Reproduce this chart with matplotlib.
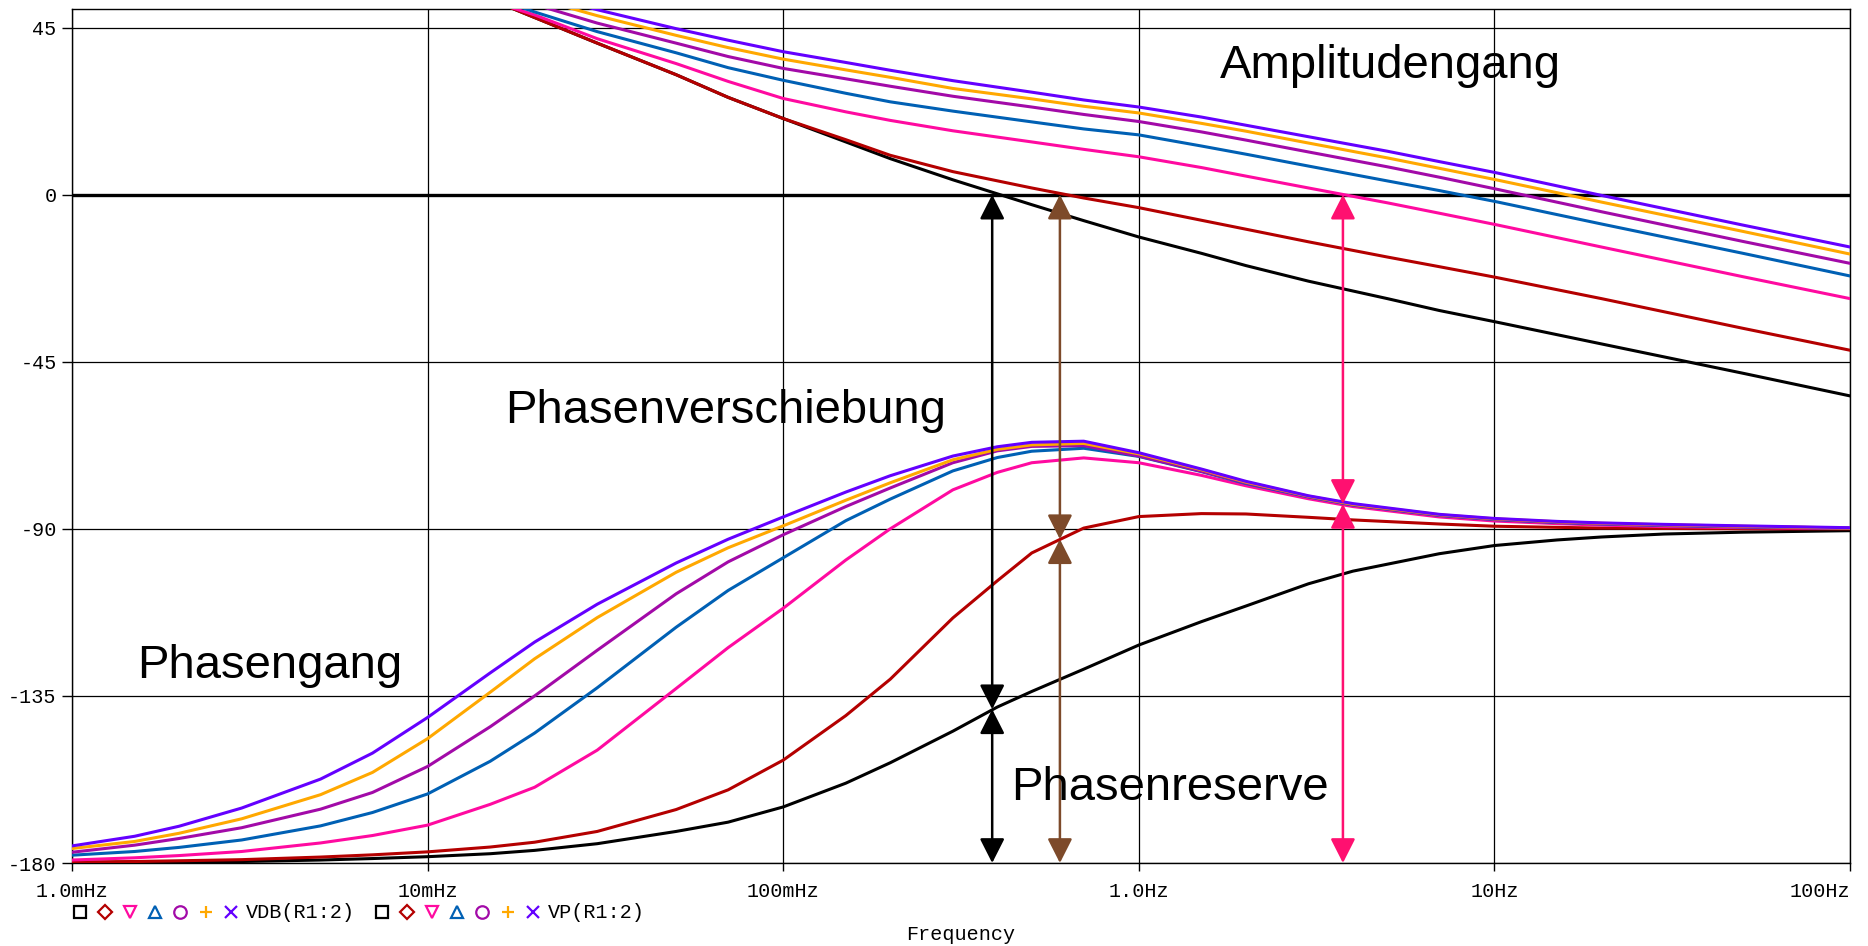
import matplotlib
matplotlib.use("Agg")
import matplotlib.pyplot as plt

## data

trace_colors = ["#000000", "#b40000", "#ff0aa0", "#0060b4", "#a20aa8", "#ffa800", "#6400ff"]
trace_markers = ["s", "D", "v", "^", "o", "+", "x"]

# VDB(R1:2), dB  (first points lie above the visible range)
mag_freq = [0.01, 0.015, 0.02, 0.03, 0.05, 0.07, 0.1, 0.15, 0.2, 0.3, 0.5, 0.7, 1, 1.5, 2, 3, 5, 7, 10, 20, 50, 100]
mag_black = [59.6, 52.6, 47.7, 40.8, 32.3, 26.2, 20.5, 14.2, 9.7, 4.0, -2.7, -7.0, -11.4, -15.8, -19.1, -23.3, -28.0, -31.2, -34.2, -40.2, -48.1, -54.2]
mag_darkred = [59.6, 52.6, 47.7, 40.8, 32.3, 26.2, 20.5, 14.8, 10.6, 6.2, 1.8, -0.9, -3.5, -6.9, -9.3, -12.7, -16.8, -19.4, -22.2, -28.0, -36.0, -41.9]
mag_pink = [58.0, 52.2, 48.4, 42.0, 35.3, 30.5, 25.9, 22.3, 20.0, 17.2, 14.2, 12.2, 10.2, 7.3, 5.0, 1.8, -2.2, -5.0, -8.0, -14.1, -22.1, -28.0]
mag_blue = [59.4, 53.3, 49.2, 43.9, 38.2, 34.2, 30.8, 27.3, 25.0, 22.5, 19.6, 17.7, 16.1, 13.1, 10.9, 7.7, 3.7, 1.1, -1.8, -7.9, -15.8, -21.9]
mag_purple = [60.8, 55.0, 51.2, 46.2, 40.8, 37.2, 34.0, 31.2, 29.2, 26.5, 23.6, 21.6, 19.7, 16.9, 14.7, 11.5, 7.5, 4.7, 1.6, -4.6, -12.6, -18.5]
mag_orange = [62.0, 56.5, 52.9, 48.2, 42.9, 39.6, 36.5, 33.6, 31.6, 28.6, 25.8, 23.8, 22.0, 19.2, 17.1, 13.9, 9.9, 7.1, 4.1, -2.0, -9.9, -16.0]
mag_violet = [63.0, 57.7, 54.3, 49.8, 44.7, 41.6, 38.5, 35.6, 33.5, 30.7, 27.6, 25.5, 23.6, 20.9, 18.7, 15.6, 11.7, 8.9, 6.0, -0.2, -8.2, -14.1]

# VP(R1:2), degrees
ph_freq = [0.001, 0.0015, 0.002, 0.003, 0.005, 0.007, 0.01, 0.015, 0.02, 0.03, 0.05, 0.07, 0.1, 0.15, 0.2, 0.3,
           0.4, 0.5, 0.7, 1, 1.5, 2, 3, 4, 7, 10, 15, 20, 30, 50, 100]
ph_black = [-179.9, -179.85, -179.8, -179.6, -179.2, -178.8, -178.3, -177.5, -176.6, -174.8, -171.5, -169.0, -164.9, -158.5, -153.0, -144.5,
            -138.0, -133.8, -127.8, -121.3, -115.0, -110.8, -104.8, -101.4, -96.7, -94.5, -93.0, -92.2, -91.4, -90.9, -90.5]
ph_darkred = [-179.7, -179.6, -179.4, -179.1, -178.4, -177.8, -177.0, -175.7, -174.4, -171.5, -165.6, -160.3, -152.3, -140.3, -130.5, -114.0,
              -104.0, -96.5, -89.8, -86.7, -85.9, -86.0, -86.9, -87.6, -88.7, -89.3, -89.6, -89.8, -89.9, -90.0, -90.0]
ph_pink = [-179.2, -178.6, -178.0, -176.9, -174.6, -172.6, -169.8, -164.2, -159.6, -149.6, -133.0, -122.0, -111.4, -98.4, -90.0, -79.5,
           -74.8, -72.2, -70.9, -72.2, -75.6, -78.4, -81.9, -84.0, -86.8, -87.9, -88.6, -89.0, -89.4, -89.7, -89.9]
ph_blue = [-177.9, -176.9, -175.8, -173.8, -170.0, -166.4, -161.4, -152.6, -145.0, -132.8, -116.5, -106.6, -97.8, -87.8, -82.0, -74.4,
           -70.8, -69.1, -68.3, -70.5, -74.6, -77.8, -81.4, -83.6, -86.4, -87.5, -88.3, -88.7, -89.1, -89.5, -89.8]
ph_purple = [-177.1, -175.2, -173.4, -170.5, -165.5, -161.0, -154.0, -143.3, -135.0, -122.7, -107.5, -98.9, -91.6, -84.0, -79.0, -72.2,
             -69.0, -67.8, -67.6, -70.4, -74.5, -77.6, -81.3, -83.5, -86.3, -87.4, -88.2, -88.6, -89.0, -89.4, -89.8]
ph_orange = [-176.1, -174.2, -172.0, -168.1, -161.6, -155.6, -146.5, -134.0, -125.0, -113.9, -101.7, -95.1, -89.2, -82.3, -77.6, -71.4,
             -68.6, -67.4, -67.0, -69.8, -74.1, -77.4, -81.2, -83.4, -86.2, -87.3, -88.1, -88.5, -88.9, -89.3, -89.8]
ph_violet = [-175.4, -172.8, -170.1, -165.2, -157.4, -150.4, -140.8, -128.8, -120.5, -110.3, -99.2, -92.8, -86.8, -80.1, -75.7, -70.4,
             -67.9, -66.7, -66.4, -69.5, -73.9, -77.2, -81.1, -83.2, -86.1, -87.2, -88.0, -88.4, -88.8, -89.2, -89.7]

# crossover arrows: frequency, phase at crossover, colour
arrow_freq = [0.387, 0.60, 3.75]
arrow_phase = [-138.6, -92.8, -83.3]
arrow_colors = ["#000000", "#7d4a2a", "#ff1070"]

# annotations
label_text = ["Amplitudengang", "Phasenverschiebung", "Phasengang", "Phasenreserve"]
label_freq = [1.69, 0.0165, 0.00152, 0.4385]
label_val = [31.3, -61.5, -130.3, -163.1]

xtick_pos = [0.001, 0.01, 0.1, 1, 10, 100]
xtick_lab = ["1.0mHz", "10mHz", "100mHz", "1.0Hz", "10Hz", "100Hz"]
ytick_pos = [45, 0, -45, -90, -135, -180]

mags = [mag_black, mag_darkred, mag_pink, mag_blue, mag_purple, mag_orange, mag_violet]
phases = [ph_black, ph_darkred, ph_pink, ph_blue, ph_purple, ph_orange, ph_violet]

## figure
W, H = 1868, 946
fig = plt.figure(figsize=(W / 100, H / 100), dpi=100)
ax = fig.add_axes([72 / W, (H - 863) / H, (1850 - 72) / W, (863 - 9) / H])

mono = "Liberation Mono"
sans = "Liberation Sans"

ax.set_xscale("log")
ax.set_xlim(1e-3, 100)
ax.set_ylim(-180, 50)

for v in ytick_pos:
    ax.axhline(v, color="black", lw=0.9, zorder=1)
for f in xtick_pos:
    ax.axvline(f, color="black", lw=0.9, zorder=1)
ax.axhline(0, color="black", lw=2.4, zorder=1)

for i in range(len(mags)):
    ax.plot(mag_freq, mags[i], color=trace_colors[i], lw=2.2, zorder=3)
    ax.plot(ph_freq, phases[i], color=trace_colors[i], lw=2.2, zorder=3)

# double arrows: 0 dB down to the phase curve, then phase curve down to -180
for i in range(len(arrow_freq)):
    f = arrow_freq[i]
    st = "<|-|>,head_length=0.75,head_width=0.38"
    ax.annotate("", xy=(f, 0), xytext=(f, arrow_phase[i]),
                arrowprops=dict(arrowstyle=st, color=arrow_colors[i], lw=1.8,
                                shrinkA=0, shrinkB=0, mutation_scale=20), zorder=4)
    ax.annotate("", xy=(f, arrow_phase[i]), xytext=(f, -180),
                arrowprops=dict(arrowstyle=st, color=arrow_colors[i], lw=1.8,
                                shrinkA=0, shrinkB=0, mutation_scale=20), zorder=4)

for i in range(len(label_text)):
    ax.text(label_freq[i], label_val[i], label_text[i], fontsize=34, family=sans,
            ha="left", va="baseline", zorder=5)

ax.set_xticks(xtick_pos)
ax.set_xticklabels(xtick_lab, fontsize=14.5, family=mono)
ax.get_xticklabels()[-1].set_ha("right")
ax.minorticks_off()
ax.set_yticks(ytick_pos)
ax.set_yticklabels([str(v) for v in ytick_pos], fontsize=14.5, family=mono)
ax.tick_params(axis="y", direction="out", length=7, width=1, pad=4)
ax.tick_params(axis="x", direction="out", length=6, width=1, pad=8)
for s in ax.spines.values():
    s.set_linewidth(1.0)

# PSpice style trace legend under the axis
lax = fig.add_axes([0, 0, 1, 1], zorder=-1)
lax.set_xlim(0, W)
lax.set_ylim(H, 0)
lax.axis("off")
leg_y = 912
starts = [80, 382]
names = ["VDB(R1:2)", "VP(R1:2)"]
for g in range(2):
    x0 = starts[g]
    for i in range(len(trace_colors)):
        ms = 9 if trace_markers[i] != "D" else 7
        lax.plot(x0 + i * 25.1, leg_y, marker=trace_markers[i], ms=ms, mfc="none",
                 mec=trace_colors[i], mew=1.6, ls="none")
    lax.text(x0 + 6 * 25.1 + 15, leg_y, names[g], fontsize=14.5, family=mono,
             ha="left", va="center")
lax.text((72 + 1850) / 2, 934, "Frequency", fontsize=14.5, family=mono, ha="center", va="center")

fig.savefig("out.png", dpi=100)
